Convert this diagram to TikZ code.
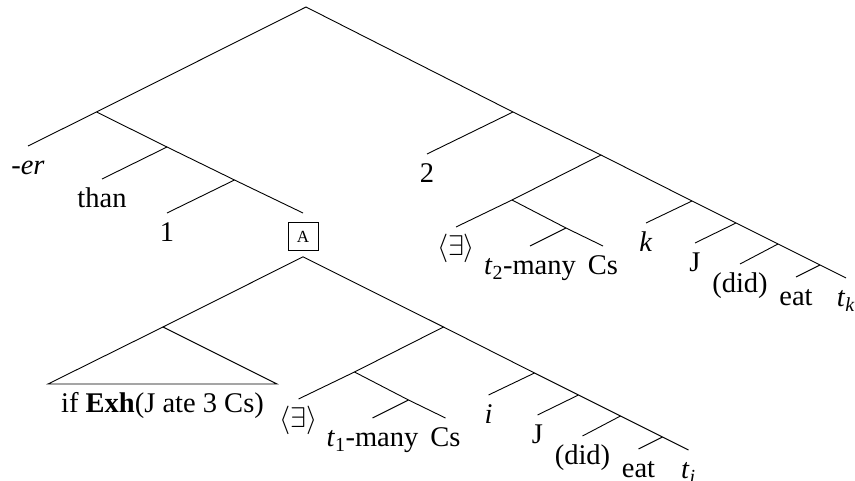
\documentclass[tikz,border=0pt]{standalone}
\usepackage{fontspec}
\setmainfont{Liberation Serif}
\newcommand{\exbr}{\scalebox{1.145}{$\langle\exists\rangle$}}
\tikzset{
  br/.style={line width=0.9pt},
  leaf/.style={anchor=north, inner sep=0pt, text height=28.5pt, text depth=0pt,
    font=\fontsize{28.5}{34}\selectfont},
  boxA/.style={draw, line width=0.8pt, minimum width=30pt, minimum height=28pt,
    inner sep=0pt, anchor=north, font=\fontsize{17}{20}\selectfont}
}
\begin{document}
\begin{tikzpicture}[x=1pt,y=-1pt]
\useasboundingbox (0,0) rectangle (855,481);
% upper tree
\coordinate (R) at (306,7);
\coordinate (L1) at (96.5,112);
\coordinate (L2) at (167,147);
\coordinate (L3) at (234.5,180);
\node[leaf] (er) at (28,146) {\textit{-er}};
\node[leaf] (than) at (102,179) {than};
\node[leaf] (one) at (167,213) {1};
\node[boxA] (A) at (303,222) {A};
\draw[br] (R) -- (L1) (L1) -- (er.north) (L1) -- (L2);
\draw[br] (L2) -- (than.north) (L2) -- (L3);
\draw[br] (L3) -- (one.north) (L3) -- ([yshift=9pt]A.north);
\coordinate (N1) at (513,112);
\node[leaf] (two) at (427,154) {2};
\draw[br] (R) -- (N1) (N1) -- (two.north);
% subtree with k (upper)
\coordinate (N2) at (601,155);
\coordinate (N3) at (512,200);
\coordinate (M2) at (566,228);
\coordinate (S1) at (692,201);
\coordinate (S2) at (736,223);
\coordinate (S3) at (778,244);
\coordinate (S4) at (820,265);
\node[leaf] (ex2) at (456,227) {\exbr};
\node[leaf] (t2) at (530,246) {\textit{t}\textsubscript{2}-many};
\node[leaf] (cs2) at (603,246) {Cs};
\node[leaf] (k) at (646,223) {\textit{k}};
\node[leaf] (J2) at (695,243) {J};
\node[leaf] (did2) at (740,264) {(did)};
\node[leaf] (eat2) at (796,277) {eat};
\node[leaf] (tk) at (846,278) {\textit{t}\textsubscript{\textit{k}}};
\draw[br] (N1) -- (N2) (N2) -- (N3) (N2) -- (S1);
\draw[br] (N3) -- (ex2.north) (N3) -- (M2) (M2) -- (t2.north) (M2) -- (cs2.north);
\draw[br] (S1) -- (k.north) (S1) -- (S2) (S2) -- (J2.north) (S2) -- (S3);
\draw[br] (S3) -- (did2.north) (S3) -- (S4) (S4) -- (eat2.north) (S4) -- (tk.north);
% lower tree under A
\coordinate (T) at (163,327);
\coordinate (TL) at (48,384);
\coordinate (TR) at (277,384);
\node[leaf] (ifx) at (162.5,384) {if \textbf{Exh}(J ate 3 Cs)};
\begin{scope}[shift={(-157.5,172)}]
\coordinate (B2) at (601,155);
\coordinate (B3) at (512,200);
\coordinate (M1) at (566,228);
\coordinate (U1) at (692,201);
\coordinate (U2) at (736,223);
\coordinate (U3) at (778,244);
\coordinate (U4) at (820,265);
\node[leaf] (ex1) at (456,227) {\exbr};
\node[leaf] (t1) at (530,246) {\textit{t}\textsubscript{1}-many};
\node[leaf] (cs1) at (603,246) {Cs};
\node[leaf] (i) at (646,223) {\textit{i}};
\node[leaf] (J1) at (695,243) {J};
\node[leaf] (did1) at (740,264) {(did)};
\node[leaf] (eat1) at (796,277) {eat};
\node[leaf] (ti) at (846,278) {\textit{t}\textsubscript{\textit{i}}};
\draw[br] (B2) -- (B3) (B2) -- (U1);
\draw[br] (B3) -- (ex1.north) (B3) -- (M1) (M1) -- (t1.north) (M1) -- (cs1.north);
\draw[br] (U1) -- (i.north) (U1) -- (U2) (U2) -- (J1.north) (U2) -- (U3);
\draw[br] (U3) -- (did1.north) (U3) -- (U4) (U4) -- (eat1.north) (U4) -- (ti.north);
\end{scope}
\draw[br] ([yshift=-6pt]A.south) -- (T) ([yshift=-6pt]A.south) -- (B2);
\draw[br] (T) -- (TL) -- (TR) -- cycle;
\end{tikzpicture}
\end{document}
